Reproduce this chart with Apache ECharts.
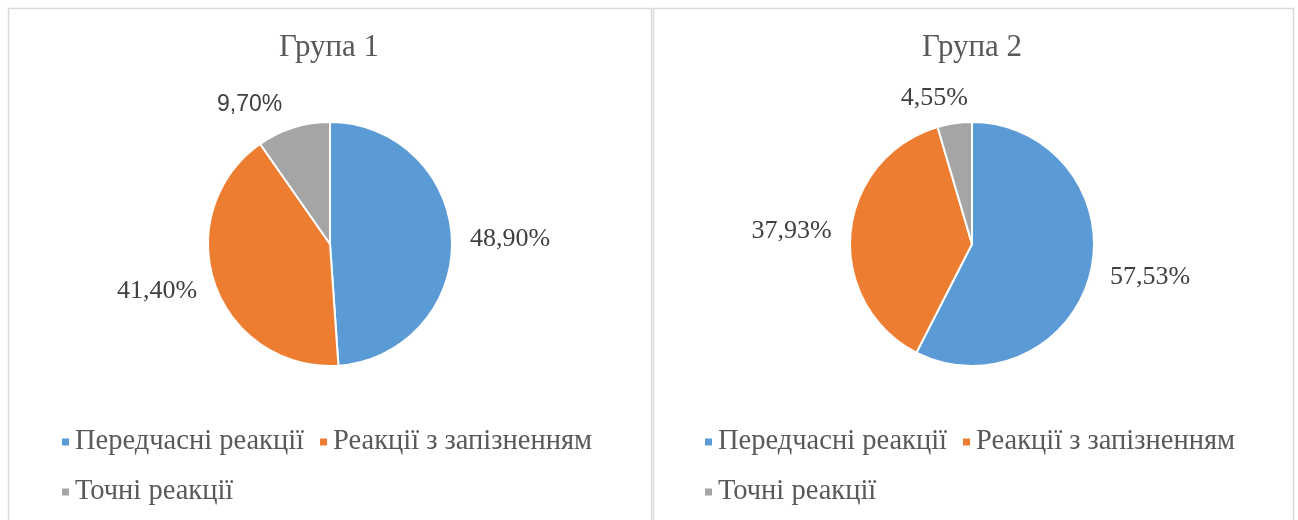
<!DOCTYPE html>
<html>
<head>
<meta charset="utf-8">
<script src="https://cdn.jsdelivr.net/npm/echarts@6/dist/echarts.min.js"></script>
<style>
  html, body { margin: 0; padding: 0; background: #ffffff; }
  #chart { width: 1298px; height: 520px; }
</style>
</head>
<body>
<div id="chart"></div>
<script>
// Reaction categories and shares (%) for each group
const categories = ['Передчасні реакції', 'Реакції з запізненням', 'Точні реакції'];
const group1 = [48.90, 41.40, 9.70];
const group2 = [57.53, 37.93, 4.55];
const groupTitles = ['Група 1', 'Група 2'];

const colors = ['#5B9BD5', '#ED7D31', '#A5A5A5'];
const serif = '"Liberation Serif", "Times New Roman", serif';
const sans = '"Liberation Sans", Arial, sans-serif';
const textColor = '#595959';

// Label leader offsets per slice (line is hidden; only used for placement)
const labelPlace1 = [[18, 0], [19, 0], [24, 4]];
const labelPlace2 = [[20, 0], [19, 0], [25.5, -17]];

function fmt(v) {
  return v.toFixed(2).replace('.', ',') + '%';
}

function pieData(values, place, sansIndex) {
  return values.map((v, i) => ({
    name: categories[i],
    value: v,
    itemStyle: { color: colors[i] },
    labelLine: { show: false, length: place[i][0], length2: place[i][1] },
    label: i === sansIndex
      ? { fontFamily: sans, fontSize: 23 }
      : {}
  }));
}

function pieSeries(values, center, place, sansIndex) {
  return {
    type: 'pie',
    center: center,
    radius: 122,
    startAngle: 90,
    clockwise: true,
    avoidLabelOverlap: false,
    animation: false,
    emphasis: { disabled: true },
    itemStyle: { borderColor: '#ffffff', borderWidth: 2 },
    label: {
      show: true,
      position: 'outside',
      distanceToLabelLine: 0,
      formatter: p => fmt(p.value),
      fontFamily: serif,
      fontSize: 26,
      color: '#404040'
    },
    labelLine: { show: false },
    data: pieData(values, place, sansIndex)
  };
}

function legendAt(left) {
  return {
    left: left,
    top: 424,
    width: 590,
    padding: 0,
    orient: 'horizontal',
    icon: 'rect',
    itemWidth: 9,
    itemHeight: 9,
    itemGap: 14,
    selectedMode: false,
    data: categories,
    textStyle: {
      fontFamily: serif,
      fontSize: 28.5,
      lineHeight: 36,
      color: textColor
    }
  };
}

const chart = echarts.init(document.getElementById('chart'), null, { renderer: 'canvas' });

chart.setOption({
  backgroundColor: '#ffffff',
  animation: false,
  color: colors,
  graphic: [
    { type: 'rect', shape: { x: 8.5, y: 8.5, width: 643, height: 530 },
      style: { fill: 'none', stroke: '#D9D9D9', lineWidth: 1.5 } },
    { type: 'rect', shape: { x: 653.5, y: 8.5, width: 640, height: 530 },
      style: { fill: 'none', stroke: '#D9D9D9', lineWidth: 1.5 } }
  ],
  title: [
    { text: groupTitles[0], left: 329, top: 32, textAlign: 'center', padding: 0,
      textStyle: { fontFamily: serif, fontSize: 31, fontWeight: 'normal', color: textColor } },
    { text: groupTitles[1], left: 972, top: 32, textAlign: 'center', padding: 0,
      textStyle: { fontFamily: serif, fontSize: 31, fontWeight: 'normal', color: textColor } }
  ],
  legend: [legendAt(60), legendAt(703)],
  series: [
    pieSeries(group1, [330, 244], labelPlace1, 2),
    pieSeries(group2, [972, 244], labelPlace2, -1)
  ]
});
</script>
</body>
</html>
